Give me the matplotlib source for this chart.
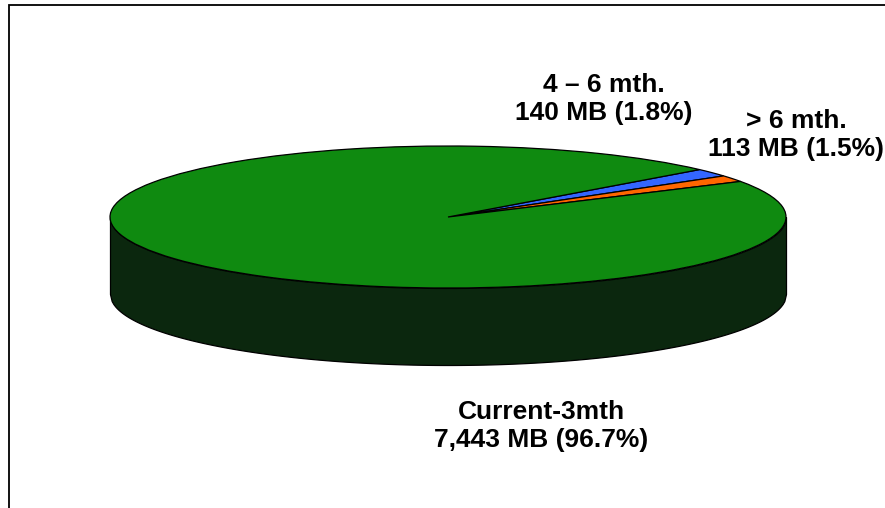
import numpy as np
import matplotlib
matplotlib.use("Agg")
import matplotlib.pyplot as plt
from matplotlib.patches import Rectangle

# ---- data ----
categories = ["4 – 6 mth.", "> 6 mth.", "Current-3mth"]
sizes_mb = [140, 113, 7443]
colors = ["#3366ff", "#ff6600", "#0f8a10"]
side_color = "#0b270e"

# ---- styling / layout ----
W, H = 885, 508
cx_px, cy_px = 448, 217          # centre of top ellipse (pixels from top-left)
a_px, b_px = 338, 71             # semi axes of top ellipse
depth_px = 77
start_angle = 41.9
label_px = [(604, 99), (796, 135), (541, 426)]

fig = plt.figure(figsize=(W / 100, H / 100), dpi=100)
ax = fig.add_axes([0, 0, 1, 1])
plt.rcParams['font.family'] = ['Liberation Sans', 'DejaVu Sans']

total = sum(sizes_mb)
wedges, _ = ax.pie(sizes_mb, colors=colors, startangle=start_angle,
                   counterclock=False, radius=1.0,
                   wedgeprops=dict(edgecolor="black", linewidth=0.9, zorder=3))

# 3D side of the pie (front half of the cylinder)
d = depth_px / b_px
x = np.linspace(-1, 1, 400)
ytop = -np.sqrt(np.clip(1 - x ** 2, 0, None))
ax.fill_between(x, ytop, ytop - d, facecolor=side_color, edgecolor="black",
                linewidth=0.9, zorder=1)

ax.set_aspect("auto")
ax.set_xlim(-cx_px / a_px, (W - cx_px) / a_px)
ax.set_ylim(-(H - cy_px) / b_px, cy_px / b_px)
ax.axis("off")

# labels
for name, val, (lx, ly) in zip(categories, sizes_mb, label_px):
    pct = 100.0 * val / total
    fig.text(lx / W, 1 - ly / H, f"{name}\n{val:,} MB ({pct:.1f}%)",
             ha="center", va="center", multialignment="center",
             fontsize=19, fontweight="bold", color="black",
             linespacing=1.25)

# chart frame
fig.patches.append(Rectangle((9 / W, -0.1), 1.2, 1.1 - 5 / H,
                             transform=fig.transFigure, fill=False,
                             edgecolor="black", linewidth=1.3))

fig.savefig("out.png", dpi=100)
